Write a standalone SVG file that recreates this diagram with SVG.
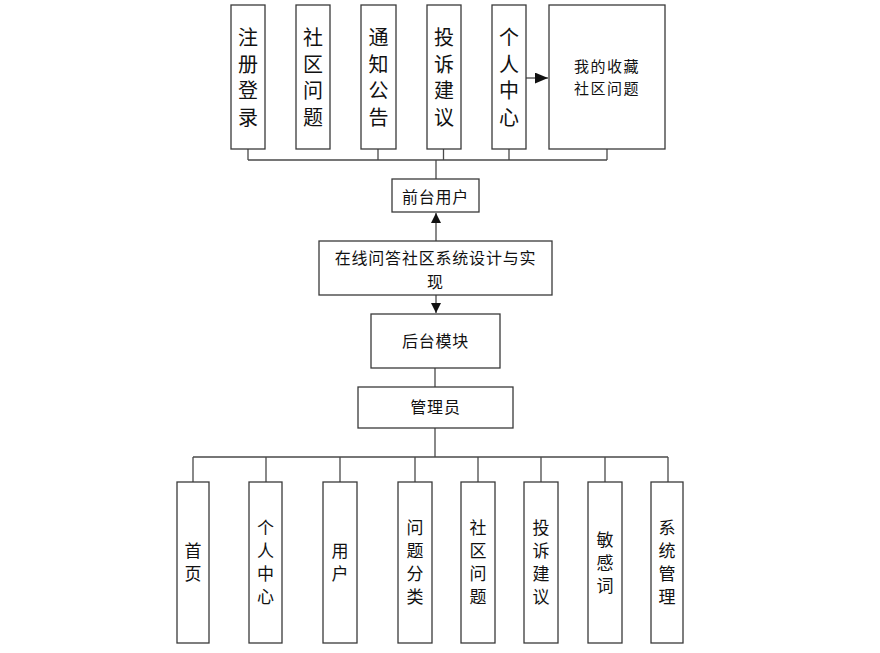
<svg xmlns="http://www.w3.org/2000/svg" width="880" height="653" viewBox="0 0 880 653">
<style>
.b{fill:#fff;stroke:#3a3a3a;stroke-width:1.3}
.c{fill:none;stroke:#4a4a4a;stroke-width:1.3}
.t{font-family:"Noto Sans CJK SC","Noto Sans",sans-serif;fill:#111;text-anchor:middle}
.v{font-size:20px}
.h{font-size:16px;letter-spacing:0.8px}
.h2{font-size:15px;letter-spacing:1.5px}
.s{font-size:17px}
</style>
<defs>
<marker id="ar" viewBox="0 0 10 10" refX="10" refY="5" markerWidth="10" markerHeight="10" markerUnits="userSpaceOnUse" orient="auto"><path d="M0,0L10,5L0,10z" fill="#111"/></marker>
<marker id="ar2" viewBox="0 0 12 10" refX="12" refY="5" markerWidth="13" markerHeight="11" markerUnits="userSpaceOnUse" orient="auto"><path d="M0,0L12,5L0,10z" fill="#111"/></marker>
</defs>
<rect width="880" height="653" fill="#fff"/>
<g id="connectors">
<path class="c" d="M248,149V160M378,149V160M443.5,149V160M509,149V160M607,149V160M248,160H607M436,160V179"/>
<path class="c" d="M526,78H548" stroke-width="2" marker-end="url(#ar2)"/>
<path class="c" d="M436,241V213" marker-end="url(#ar)"/>
<path class="c" d="M436,295V313" marker-end="url(#ar)"/>
<path class="c" d="M435,368V387M435,428V457M193,457H668M193,457V482M266,457V482M340,457V482M415,457V482M478,457V482M541,457V482M605,457V482M668,457V482"/>
</g>
<g id="n_zhuce"><rect class="b" x="231" y="5" width="34" height="144"/><text class="t v"><tspan x="248" y="45">注</tspan><tspan x="248" y="71.5">册</tspan><tspan x="248" y="98">登</tspan><tspan x="248" y="124.5">录</tspan></text></g>
<g id="n_shequ"><rect class="b" x="296" y="5" width="34" height="144"/><text class="t v"><tspan x="313" y="45">社</tspan><tspan x="313" y="71.5">区</tspan><tspan x="313" y="98">问</tspan><tspan x="313" y="124.5">题</tspan></text></g>
<g id="n_tongzhi"><rect class="b" x="361" y="5" width="35" height="144"/><text class="t v"><tspan x="378.5" y="45">通</tspan><tspan x="378.5" y="71.5">知</tspan><tspan x="378.5" y="98">公</tspan><tspan x="378.5" y="124.5">告</tspan></text></g>
<g id="n_tousu"><rect class="b" x="427" y="5" width="34" height="144"/><text class="t v"><tspan x="444" y="45">投</tspan><tspan x="444" y="71.5">诉</tspan><tspan x="444" y="98">建</tspan><tspan x="444" y="124.5">议</tspan></text></g>
<g id="n_geren"><rect class="b" x="492" y="5" width="34" height="144"/><text class="t v"><tspan x="509" y="45">个</tspan><tspan x="509" y="71.5">人</tspan><tspan x="509" y="98">中</tspan><tspan x="509" y="124.5">心</tspan></text></g>
<g id="n_shoucang"><rect class="b" x="549" y="5" width="116" height="144"/><text class="t h2" x="607" y="72">我的收藏</text><text class="t h2" x="607" y="94">社区问题</text></g>
<g id="n_qiantai"><rect class="b" x="392" y="179" width="87" height="33"/><text class="t h" x="435.5" y="203">前台用户</text></g>
<g id="n_xitong"><rect class="b" x="319" y="241" width="233" height="54"/><text class="t h" x="435.5" y="264">在线问答社区系统设计与实</text><text class="t h" x="435.5" y="288">现</text></g>
<g id="n_houtai"><rect class="b" x="371" y="314" width="129" height="54"/><text class="t h" x="435.5" y="347">后台模块</text></g>
<g id="n_guanli"><rect class="b" x="358" y="387" width="155" height="41"/><text class="t h" x="435.5" y="413">管理员</text></g>
<g id="n_shouye"><rect class="b" x="177" y="482" width="32" height="161"/><text class="t s"><tspan x="193" y="557">首</tspan><tspan x="193" y="580">页</tspan></text></g>
<g id="n_geren2"><rect class="b" x="249" y="482" width="33" height="161"/><text class="t s"><tspan x="265.5" y="534">个</tspan><tspan x="265.5" y="557">人</tspan><tspan x="265.5" y="580">中</tspan><tspan x="265.5" y="603">心</tspan></text></g>
<g id="n_yonghu"><rect class="b" x="323" y="482" width="34" height="161"/><text class="t s"><tspan x="340" y="557">用</tspan><tspan x="340" y="580">户</tspan></text></g>
<g id="n_fenlei"><rect class="b" x="398" y="482" width="34" height="161"/><text class="t s"><tspan x="415" y="534">问</tspan><tspan x="415" y="557">题</tspan><tspan x="415" y="580">分</tspan><tspan x="415" y="603">类</tspan></text></g>
<g id="n_shequ2"><rect class="b" x="461" y="482" width="34" height="161"/><text class="t s"><tspan x="478" y="534">社</tspan><tspan x="478" y="557">区</tspan><tspan x="478" y="580">问</tspan><tspan x="478" y="603">题</tspan></text></g>
<g id="n_tousu2"><rect class="b" x="524" y="482" width="34" height="161"/><text class="t s"><tspan x="541" y="534">投</tspan><tspan x="541" y="557">诉</tspan><tspan x="541" y="580">建</tspan><tspan x="541" y="603">议</tspan></text></g>
<g id="n_minganci"><rect class="b" x="588" y="482" width="34" height="161"/><text class="t s"><tspan x="605" y="545.5">敏</tspan><tspan x="605" y="568.5">感</tspan><tspan x="605" y="591.5">词</tspan></text></g>
<g id="n_xtgl"><rect class="b" x="651" y="482" width="32" height="161"/><text class="t s"><tspan x="667" y="534">系</tspan><tspan x="667" y="557">统</tspan><tspan x="667" y="580">管</tspan><tspan x="667" y="603">理</tspan></text></g>
</svg>
